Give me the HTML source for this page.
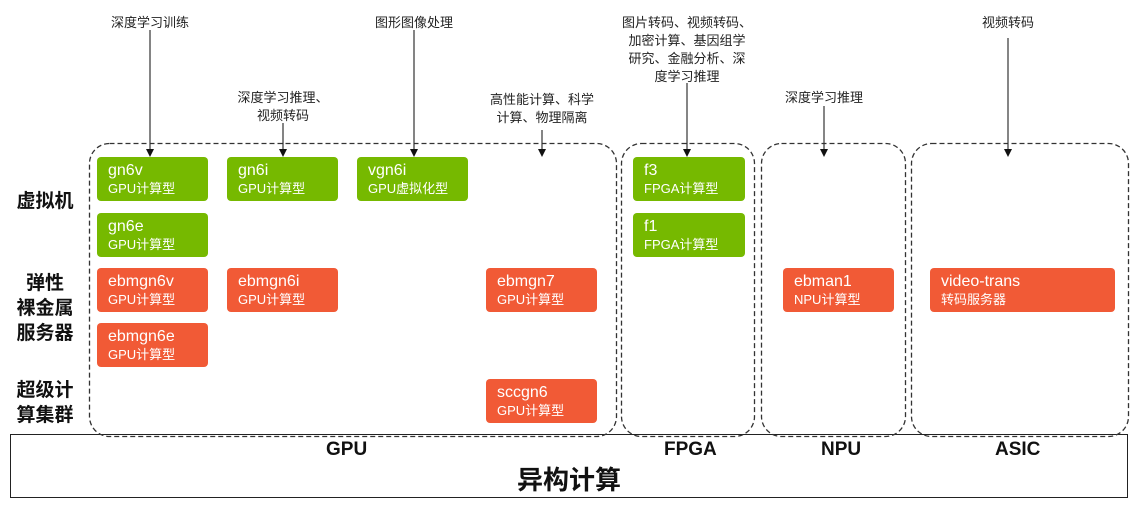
<!DOCTYPE html>
<html><head><meta charset="utf-8"><style>
body{margin:0;width:1138px;height:510px;background:#fff;position:relative;overflow:hidden;font-family:"Liberation Sans","Noto Sans CJK SC",sans-serif;}
.a{position:absolute}
.b{position:absolute;width:111px;height:44px;border-radius:4px;color:#fff;box-sizing:border-box;padding:4px 0 0 11px;}
.b .t{font-size:16px;line-height:19px;}
.b .s{font-size:13px;line-height:17px;}
.g{background:#76b900}.o{background:#f15a36}
.l{position:absolute;font-size:13px;line-height:18px;color:#222;text-align:center;white-space:nowrap}
.r{position:absolute;font-size:19px;font-weight:bold;line-height:25px;text-align:center;color:#111}
.h{position:absolute;font-size:19px;font-weight:bold;color:#111}
</style></head><body>
<div class="a" style="left:10px;top:434px;width:1118px;height:64px;border:1.3px solid #222;box-sizing:border-box"></div>

<svg class="a" style="left:0;top:0" width="1138" height="510">
<g fill="none" stroke="#333" stroke-width="1.3" stroke-dasharray="5,3">
<rect x="89.5" y="143.5" width="527" height="293" rx="20"/>
<rect x="621.5" y="143.5" width="133" height="293" rx="20"/>
<rect x="761.5" y="143.5" width="144" height="293" rx="20"/>
<rect x="911.5" y="143.5" width="217" height="293" rx="20"/>
</g>
<g stroke="#333" stroke-width="1.2">
<line x1="150" y1="30" x2="150" y2="150"/>
<line x1="283" y1="123" x2="283" y2="150"/>
<line x1="414" y1="30" x2="414" y2="150"/>
<line x1="542" y1="130" x2="542" y2="150"/>
<line x1="687" y1="83" x2="687" y2="150"/>
<line x1="824" y1="106" x2="824" y2="150"/>
<line x1="1008" y1="38" x2="1008" y2="150"/>
</g>
<g fill="#111">
<path d="M146,149 L154,149 L150,157z"/>
<path d="M279,149 L287,149 L283,157z"/>
<path d="M410,149 L418,149 L414,157z"/>
<path d="M538,149 L546,149 L542,157z"/>
<path d="M683,149 L691,149 L687,157z"/>
<path d="M820,149 L828,149 L824,157z"/>
<path d="M1004,149 L1012,149 L1008,157z"/>
</g></svg>

<div class="l" style="left:100px;top:14px;width:100px">深度学习训练</div>
<div class="l" style="left:213px;top:89px;width:140px">深度学习推理、<br>视频转码</div>
<div class="l" style="left:354px;top:14px;width:120px">图形图像处理</div>
<div class="l" style="left:472px;top:91px;width:140px">高性能计算、科学<br>计算、物理隔离</div>
<div class="l" style="left:612px;top:14px;width:150px">图片转码、视频转码、<br>加密计算、基因组学<br>研究、金融分析、深<br>度学习推理</div>
<div class="l" style="left:774px;top:89px;width:100px">深度学习推理</div>
<div class="l" style="left:968px;top:14px;width:80px">视频转码</div>

<div class="r" style="left:10px;top:189px;width:70px">虚拟机</div>
<div class="r" style="left:10px;top:271px;width:70px">弹性<br>裸金属<br>服务器</div>
<div class="r" style="left:10px;top:378px;width:70px">超级计<br>算集群</div>

<div class="b g" style="left:97px;top:157px"><div class="t">gn6v</div><div class="s">GPU计算型</div></div>
<div class="b g" style="left:227px;top:157px"><div class="t">gn6i</div><div class="s">GPU计算型</div></div>
<div class="b g" style="left:357px;top:157px"><div class="t">vgn6i</div><div class="s">GPU虚拟化型</div></div>
<div class="b g" style="left:97px;top:213px"><div class="t">gn6e</div><div class="s">GPU计算型</div></div>
<div class="b o" style="left:97px;top:268px"><div class="t">ebmgn6v</div><div class="s">GPU计算型</div></div>
<div class="b o" style="left:227px;top:268px"><div class="t">ebmgn6i</div><div class="s">GPU计算型</div></div>
<div class="b o" style="left:486px;top:268px"><div class="t">ebmgn7</div><div class="s">GPU计算型</div></div>
<div class="b o" style="left:97px;top:323px"><div class="t">ebmgn6e</div><div class="s">GPU计算型</div></div>
<div class="b o" style="left:486px;top:379px"><div class="t">sccgn6</div><div class="s">GPU计算型</div></div>
<div class="b g" style="left:633px;top:157px;width:112px"><div class="t">f3</div><div class="s">FPGA计算型</div></div>
<div class="b g" style="left:633px;top:213px;width:112px"><div class="t">f1</div><div class="s">FPGA计算型</div></div>
<div class="b o" style="left:783px;top:268px"><div class="t">ebman1</div><div class="s">NPU计算型</div></div>
<div class="b o" style="left:930px;top:268px;width:185px"><div class="t">video-trans</div><div class="s">转码服务器</div></div>

<div class="h" style="left:326px;top:439px">GPU</div>
<div class="h" style="left:664px;top:439px">FPGA</div>
<div class="h" style="left:821px;top:439px">NPU</div>
<div class="h" style="left:995px;top:439px">ASIC</div>
<div class="a" style="left:0;top:460px;width:1138px;text-align:center;font-size:26px;font-weight:bold;color:#111">异构计算</div>
</body></html>
